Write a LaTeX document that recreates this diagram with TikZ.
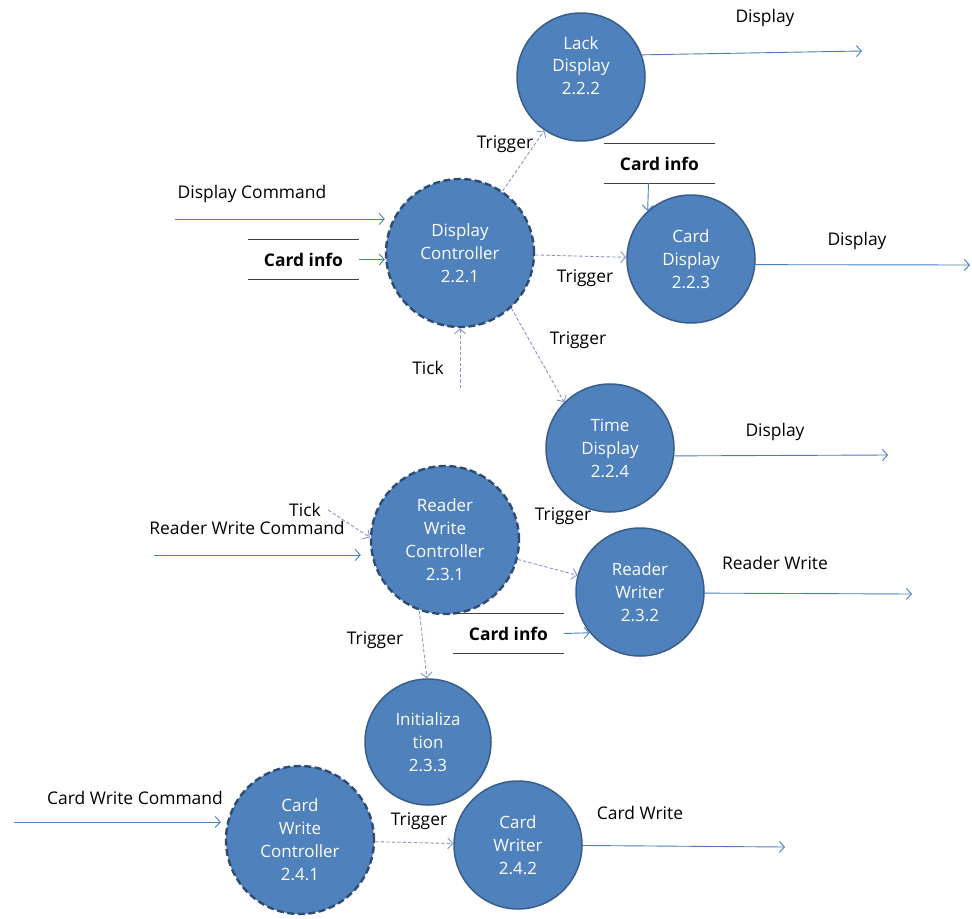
\documentclass[tikz,border=0pt]{standalone}
\usepackage{fontspec}
\setmainfont{Open Sans}
\usetikzlibrary{arrows.meta}
\definecolor{procfill}{HTML}{4F81BD}
\definecolor{procline}{HTML}{385D8A}
\definecolor{ctrlline}{HTML}{2E4B72}
\definecolor{flowline}{HTML}{4A7EBB}
\definecolor{trigline}{HTML}{8797C4}

\begin{document}
\begin{tikzpicture}[x=1bp,y=-1bp,
	proc/.style={circle,fill=procfill,draw=procline,line width=1.5bp,text=white,align=center,inner sep=0pt,minimum size=128bp,font=\fontsize{17}{23}\selectfont},
	ctrl/.style={proc,draw=ctrlline,dash pattern=on 7bp off 3.5bp,line width=2.4bp,minimum size=148bp},
	flow/.style={draw=flowline,line width=.9bp,-{Straight Barb[length=5bp,width=11bp]}},
	trig/.style={flow,draw=trigline,dash pattern=on 3.5bp off 2bp},
	lbl/.style={text=black,font=\fontsize{17.5}{20}\selectfont},
	store/.style={lbl,font=\bfseries\fontsize{17.5}{20}\selectfont,minimum width=111bp,minimum height=39bp,inner sep=0pt}]
			\useasboundingbox (0,0) rectangle (972,919);
			
			\node[proc] (lack) at (581,77) {Lack\\Display\\2.2.2\\\mbox{}};
			\node[ctrl] (dispctl) at (460,253) {Display\\Controller\\2.2.1};
			\node[proc] (carddisp) at (691,259) {Card\\Display\\2.2.3};
			\node[proc] (timedisp) at (610,448) {Time\\Display\\2.2.4};
			\node[ctrl] (rwctl) at (445,540) {Reader\\Write\\Controller\\2.3.1};
			\node[proc] (rwriter) at (640,592) {Reader\\Writer\\2.3.2};
			\node[proc,minimum size=126bp] (init) at (428,742) {Initializa\\tion\\2.3.3};
			\node[ctrl] (cwctl) at (300,840) {Card\\Write\\Controller\\2.4.1};
			\node[proc] (cwriter) at (518,845) {Card\\Writer\\2.4.2};
			
			\node[store] (storeA) at (303.5,259.5) {Card info};
			\node[store] (storeB) at (659.5,163.5) {Card info};
			\node[store] (storeC) at (508.5,633.5) {Card info};
			\foreach \s in {storeA,storeB,storeC}
				\draw[line width=1.3bp,black!75] (\s.north west) -- (\s.north east) (\s.south west) -- (\s.south east);
			
			\coordinate (dcmd) at (175,219); \coordinate (tickA) at (460,388);
			\coordinate (outA) at (862,51); \coordinate (outB) at (970,265); \coordinate (outC) at (888,455);
			\coordinate (rwcmd) at (154,555); \coordinate (tickB) at (328,510); \coordinate (outD) at (912,594);
			\coordinate (cwcmd) at (14,822); \coordinate (outE) at (785,847);
			
			\draw[flow] (dcmd) -- (dcmd -| dispctl.west);
			\draw[flow] (storeA.east) -- (storeA.east -| dispctl.west);
			\draw[trig] (tickA) -- (dispctl);
			\draw[trig] (dispctl) -- (lack);
			\draw[trig] (dispctl) -- (carddisp);
			\draw[trig] (dispctl.-47) -- (timedisp.135);
			\draw[flow] ([xshift=-11bp]storeB.south) -- (carddisp.132);
			\draw[flow] (lack.20) -- (outA);
			\draw[flow] (carddisp.-5) -- (outB);
			\draw[flow] (timedisp.-7) -- (outC);
			
			\draw[flow,shorten >=9bp] (rwcmd) -- (rwcmd -| rwctl.west);
			\draw[trig] (tickB) -- (rwctl.178);
			\draw[trig] (rwctl) -- (rwriter);
			\draw[flow] (storeC.east) -- (rwriter.219);
			\draw[flow] (rwriter.-1) -- (outD);
			\draw[trig] (rwctl.250) -- (init.91);
			
			\draw[flow,shorten >=4bp] (cwcmd) -- (cwcmd -| cwctl.west);
			\draw[trig] (cwctl) -- (cwriter);
			\draw[flow] (cwriter) -- (outE);
			
			\node[lbl] (lblDcmd) at (252,194) {Display Command};
			\node[lbl] (lblTickA) at (428,368) {Tick};
			\node[lbl] (lblTrA) at (505,144) {Trigger};
			\node[lbl] (lblTrB) at (585,278) {Trigger};
			\node[lbl] (lblTrC) at (578,340) {Trigger};
			\node[lbl] (lblDispA) at (765,18) {Display};
			\node[lbl] (lblDispB) at (857,241) {Display};
			\node[lbl] (lblDispC) at (775,432) {Display};
			\node[lbl] (lblTickB) at (305,510) {Tick};
			\node[lbl] (lblRwcmd) at (247,528) {Reader Write Command};
			\node[lbl] (lblTrD) at (563,516) {Trigger};
			\node[lbl] (lblTrE) at (375,640) {Trigger};
			\node[lbl] (lblRw) at (775,563) {Reader Write};
			\node[lbl] (lblCwcmd) at (135,798) {Card Write Command};
			\node[lbl] (lblTrF) at (419,821) {Trigger};
			\node[lbl] (lblCw) at (640,813) {Card Write};
\end{tikzpicture}
\end{document}
